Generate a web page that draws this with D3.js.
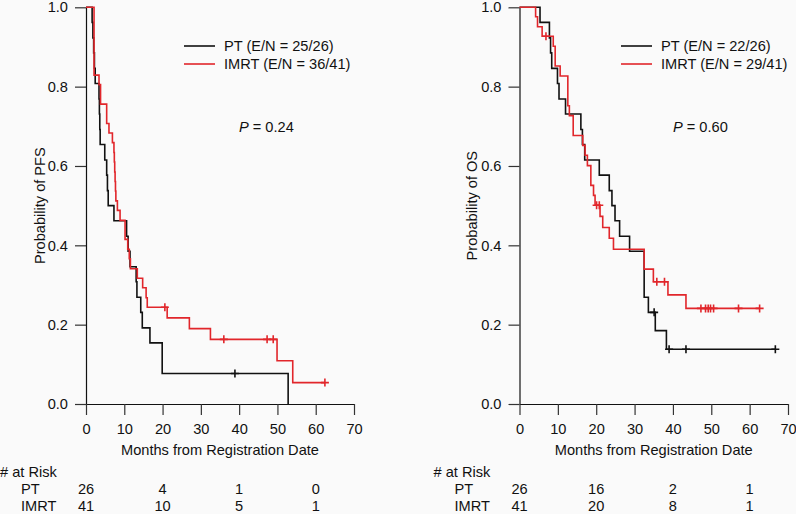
<!DOCTYPE html>
<html>
<head>
<meta charset="utf-8">
<script src="https://cdn.jsdelivr.net/npm/d3@7"></script>
<style>
  html, body { margin: 0; padding: 0; background: #fafafa; }
  svg { display: block; }
  text { font-family: "Liberation Sans", Arial, Helvetica, sans-serif; font-size: 14.6px; fill: #111; }
</style>
</head>
<body>
<script>
// ---------- DATA ----------
const tickMonths = [0, 10, 20, 30, 40, 50, 60, 70];
const tickProb = [0, 0.2, 0.4, 0.6, 0.8, 1.0];
const riskMonths = [0, 20, 40, 60];
const groups = ["PT", "IMRT"];

// PFS panel
const pfsPT_time = [0, 1.6, 1.8, 2.0, 2.2, 2.4, 3.4, 3.5, 3.6, 3.7, 4.9, 5.4, 5.6, 5.8, 7.3, 10.6, 11.0, 11.5, 13.1, 13.3, 14.3, 14.7, 16.7, 19.9, 52.8];
const pfsPT_surv = [1.0, 0.962, 0.923, 0.885, 0.846, 0.808, 0.769, 0.731, 0.692, 0.654, 0.615, 0.577, 0.538, 0.500, 0.462, 0.423, 0.385, 0.346, 0.308, 0.269, 0.231, 0.192, 0.154, 0.077, 0.0];
const pfsPT_end = 52.8;
const pfsPT_censor = [38.9];

const pfsIMRT_time = [0, 2.1, 3.4, 3.8, 5.4, 6.0, 6.9, 7.3, 7.4, 7.5, 7.6, 7.7, 7.8, 8.2, 8.9, 10.2, 10.9, 11.3, 11.6, 13.4, 14.8, 15.7, 16.0, 21.2, 27.0, 32.5, 49.9, 54.0];
const pfsIMRT_surv = [1.0, 0.829, 0.805, 0.756, 0.707, 0.683, 0.659, 0.634, 0.610, 0.585, 0.561, 0.537, 0.512, 0.488, 0.463, 0.415, 0.390, 0.366, 0.341, 0.317, 0.293, 0.268, 0.244, 0.217, 0.190, 0.163, 0.109, 0.054];
const pfsIMRT_end = 62.4;
const pfsIMRT_censor = [20.6, 36.0, 47.3, 48.9, 62.4];

const pfsLegend = ["PT (E/N = 25/26)", "IMRT (E/N = 36/41)"];
const pfsP = "0.24";
const pfsRiskPT = [26, 4, 1, 0];
const pfsRiskIMRT = [41, 10, 5, 1];

// OS panel
const osPT_time = [0, 5.35, 7.8, 8.1, 8.4, 9.9, 10.3, 12.0, 16.0, 16.4, 17.0, 20.8, 23.4, 24.1, 24.9, 26.1, 28.7, 32.5, 33.6, 35.4, 38.3];
const osPT_surv = [1.0, 0.962, 0.923, 0.885, 0.846, 0.808, 0.769, 0.731, 0.692, 0.654, 0.615, 0.577, 0.538, 0.500, 0.462, 0.423, 0.385, 0.269, 0.231, 0.185, 0.138];
const osPT_end = 66.7;
const osPT_censor = [35.1, 39.0, 43.4, 66.7];

const osIMRT_time = [0, 4.2, 4.7, 5.9, 8.8, 9.3, 10.6, 12.6, 13.0, 14.0, 16.5, 17.1, 17.7, 18.6, 19.3, 19.7, 21.0, 21.7, 23.4, 24.5, 32.5, 34.9, 38.7, 43.4];
const osIMRT_surv = [1.0, 0.976, 0.951, 0.927, 0.902, 0.852, 0.827, 0.752, 0.727, 0.677, 0.652, 0.627, 0.601, 0.551, 0.526, 0.501, 0.473, 0.445, 0.418, 0.390, 0.340, 0.308, 0.275, 0.241];
const osIMRT_end = 62.6;
const osIMRT_censor = [6.9, 20.1, 20.8, 35.8, 37.8, 47.3, 48.5, 49.2, 49.8, 50.6, 57.1, 62.6];

const osLegend = ["PT (E/N = 22/26)", "IMRT (E/N = 29/41)"];
const osP = "0.60";
const osRiskPT = [26, 16, 2, 1];
const osRiskIMRT = [41, 20, 8, 1];

const xTitle = "Months from Registration Date";
const riskTitle = "# at Risk";

// ---------- DRAWING ----------
const W = 796, H = 514;
const colors = { PT: "#111111", IMRT: "#e1262b" };

const svg = d3.select("body").append("svg").attr("width", W).attr("height", H);
svg.append("rect").attr("width", W).attr("height", H).attr("fill", "#fafafa");

function panel(cfg) {
  const x = d3.scaleLinear().domain([0, 70]).range([cfg.x0, cfg.x1]);
  const y = d3.scaleLinear().domain([0, 1]).range([404, 7.3]);
  const g = svg.append("g");

  // axes
  const yAxis = d3.axisLeft(y).tickValues(tickProb).tickFormat(d3.format(".1f"))
    .tickSize(11).tickSizeOuter(0).tickPadding(7);
  const xAxis = d3.axisBottom(x).tickValues(tickMonths).tickFormat(d3.format("d"))
    .tickSize(11).tickSizeOuter(0).tickPadding(9);
  const ya = g.append("g").attr("transform", `translate(${cfg.x0},0)`).call(yAxis);
  const xa = g.append("g").attr("transform", `translate(0,404)`).call(xAxis);
  [ya, xa].forEach(a => {
    a.select(".domain").attr("stroke", "#111").attr("stroke-width", 1.2);
    a.selectAll(".tick line").attr("stroke", "#333").attr("stroke-width", 1.2);
    a.selectAll(".tick text").attr("font-size", "14.6px").attr("fill", "#111")
      .attr("font-family", '"Liberation Sans", Arial, Helvetica, sans-serif');
  });

  // titles
  g.append("text").attr("x", (cfg.x0 + cfg.x1) / 2).attr("y", 455)
    .attr("text-anchor", "middle").text(xTitle);
  g.append("text").attr("transform", `translate(${cfg.yTitleX},${(y(0) + y(1)) / 2}) rotate(-90)`)
    .attr("text-anchor", "middle").text(cfg.yTitle);

  // curves
  const line = d3.line().x(d => x(d[0])).y(d => y(d[1])).curve(d3.curveStepAfter);
  cfg.series.forEach(s => {
    const pts = s.time.map((t, i) => [t, s.surv[i]]);
    const last = pts[pts.length - 1];
    if (s.end > last[0]) pts.push([s.end, last[1]]);
    g.append("path").datum(pts).attr("d", line).attr("fill", "none")
      .attr("stroke", colors[s.name]).attr("stroke-width", 1.6);
    // censor marks
    const survAt = t => { let v = 1; s.time.forEach((tt, i) => { if (tt <= t) v = s.surv[i]; }); return v; };
    s.censor.forEach(c => {
      const cx = x(c), cy = y(survAt(c));
      g.append("path").attr("d", `M${cx - 4},${cy}H${cx + 4}M${cx},${cy - 4}V${cy + 4}`)
        .attr("stroke", colors[s.name]).attr("stroke-width", 1.6).attr("fill", "none");
    });
  });

  // legend
  cfg.legend.forEach((lab, i) => {
    const ly = 46 + i * 18;
    g.append("line").attr("x1", cfg.legX).attr("x2", cfg.legX + 31).attr("y1", ly).attr("y2", ly)
      .attr("stroke", colors[groups[i]]).attr("stroke-width", 1.6);
    g.append("text").attr("x", cfg.legX + 40).attr("y", ly + 5.3).text(lab);
  });

  // P value
  const pt = g.append("text").attr("x", cfg.pX).attr("y", 131.5);
  pt.append("tspan").attr("font-style", "italic").text("P");
  pt.append("tspan").text(" = " + cfg.p);

  // at-risk table
  const tx = cfg.x0 - 86;
  g.append("text").attr("x", tx).attr("y", 476.5).text(riskTitle);
  g.append("text").attr("x", tx + 21).attr("y", 493.5).text(groups[0]);
  g.append("text").attr("x", tx + 21).attr("y", 510.5).text(groups[1]);
  riskMonths.forEach((m, i) => {
    g.append("text").attr("x", x(m)).attr("y", 493.5).attr("text-anchor", "middle").text(cfg.riskPT[i]);
    g.append("text").attr("x", x(m)).attr("y", 510.5).attr("text-anchor", "middle").text(cfg.riskIMRT[i]);
  });
}

panel({
  x0: 86, x1: 354, yTitleX: 45, yTitle: "Probability of PFS",
  legX: 184, pX: 239, p: pfsP, legend: pfsLegend,
  riskPT: pfsRiskPT, riskIMRT: pfsRiskIMRT,
  series: [
    { name: "PT", time: pfsPT_time, surv: pfsPT_surv, end: pfsPT_end, censor: pfsPT_censor },
    { name: "IMRT", time: pfsIMRT_time, surv: pfsIMRT_surv, end: pfsIMRT_end, censor: pfsIMRT_censor }
  ]
});
panel({
  x0: 519.5, x1: 788, yTitleX: 477, yTitle: "Probability of OS",
  legX: 621, pX: 673, p: osP, legend: osLegend,
  riskPT: osRiskPT, riskIMRT: osRiskIMRT,
  series: [
    { name: "PT", time: osPT_time, surv: osPT_surv, end: osPT_end, censor: osPT_censor },
    { name: "IMRT", time: osIMRT_time, surv: osIMRT_surv, end: osIMRT_end, censor: osIMRT_censor }
  ]
});
</script>
</body>
</html>
